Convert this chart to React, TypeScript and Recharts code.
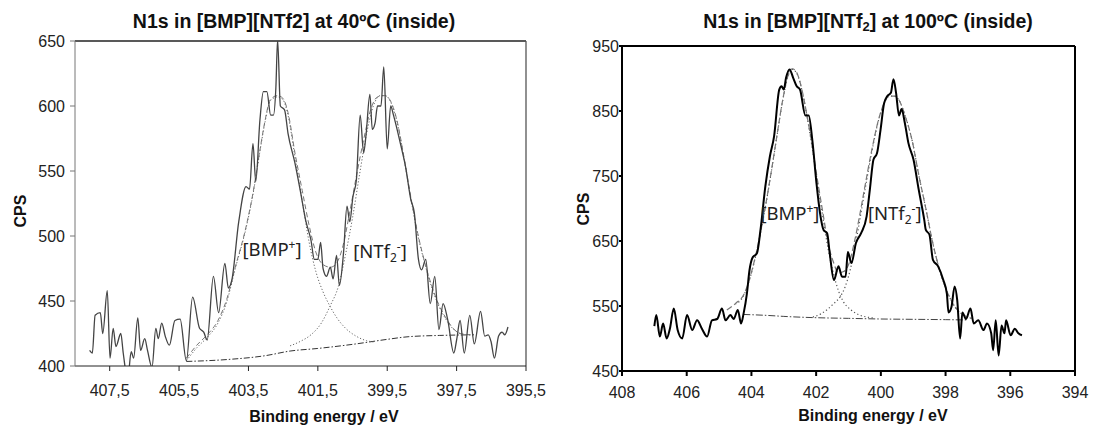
import React from 'react';
import { LineChart, Line, XAxis, YAxis, ReferenceLine, ReferenceDot } from 'recharts';

// ---------- Left chart (40 ºC) ----------
const leftXTicks = [407.5, 405.5, 403.5, 401.5, 399.5, 397.5, 395.5];
const leftYTicks = [400, 450, 500, 550, 600, 650];

const leftRaw: [number, number][] = [
  [408.08, 412], [408.0, 410], [407.92, 439], [407.77, 441], [407.7, 425], [407.57, 458], [407.49, 406], [407.4, 429], [407.32, 415], [407.18, 425],
  [407.11, 410], [406.98, 390], [406.88, 411], [406.81, 406], [406.69, 437], [406.61, 412], [406.49, 421], [406.41, 412], [406.28, 399], [406.17, 429],
  [406.1, 421], [406.0, 433], [405.9, 423], [405.78, 416], [405.62, 435], [405.47, 436], [405.29, 404], [405.11, 453], [404.91, 429], [404.79, 426],
  [404.69, 420], [404.51, 469], [404.36, 441], [404.18, 479], [404.08, 460], [403.98, 466], [403.78, 511], [403.57, 538], [403.47, 536], [403.37, 571],
  [403.29, 542], [403.17, 589], [403.07, 611], [402.97, 611], [402.86, 593], [402.78, 593], [402.71, 614], [402.66, 651], [402.58, 600], [402.46, 597],
  [402.36, 579], [402.16, 556], [402.0, 534], [401.85, 512], [401.7, 497], [401.6, 482], [401.5, 482], [401.42, 495], [401.35, 475], [401.25, 469],
  [401.14, 476], [401.06, 467], [400.96, 485], [400.88, 462], [400.76, 487], [400.66, 523], [400.58, 511], [400.49, 530], [400.39, 543], [400.28, 593],
  [400.18, 564], [400.11, 578], [400.0, 609], [399.93, 582], [399.85, 587], [399.78, 600], [399.68, 600], [399.6, 630], [399.5, 567], [399.4, 600],
  [399.32, 593], [399.12, 571], [398.97, 553], [398.82, 528], [398.72, 518], [398.6, 482], [398.51, 474], [398.39, 482], [398.26, 448], [398.13, 469],
  [398.01, 428], [397.89, 448], [397.76, 436], [397.58, 410], [397.5, 420], [397.4, 435], [397.28, 410], [397.12, 439], [396.99, 417], [396.81, 442],
  [396.69, 423], [396.59, 424], [396.51, 419], [396.41, 406], [396.29, 423], [396.19, 426], [396.11, 424], [396.02, 430],
];

const leftEnvelope: [number, number][] = [
  [405.29, 406], [404.99, 416], [404.69, 424], [404.38, 435], [404.13, 451], [403.88, 476], [403.57, 507], [403.37, 533], [403.17, 566], [403.02, 589],
  [402.87, 605], [402.66, 608], [402.51, 606], [402.36, 595], [402.16, 564], [401.95, 535], [401.75, 508], [401.55, 487], [401.35, 478], [401.14, 476],
  [400.99, 478], [400.79, 491], [400.59, 517], [400.39, 546], [400.18, 574], [399.98, 597], [399.78, 607], [399.58, 608], [399.43, 605], [399.22, 589],
  [399.02, 561], [398.82, 530], [398.62, 502], [398.41, 479], [398.21, 461], [398.01, 447], [397.81, 437], [397.6, 429], [397.4, 425], [397.1, 424],
];

const leftBmp: [number, number][] = [
  [405.29, 404], [404.99, 414], [404.69, 422], [404.38, 433], [404.13, 449], [403.88, 475], [403.57, 506], [403.37, 532], [403.17, 565], [403.02, 588],
  [402.87, 604], [402.66, 607], [402.51, 605], [402.36, 593], [402.16, 561], [401.95, 527], [401.75, 495], [401.55, 472], [401.35, 457], [401.15, 446],
  [400.95, 437], [400.7, 429], [400.4, 423], [400.1, 419.5], [399.9, 418.5],
];

const leftNtf: [number, number][] = [
  [402.3, 415.5], [402.0, 419], [401.7, 424], [401.4, 433], [401.15, 446], [400.9, 462], [400.7, 486], [400.5, 514], [400.3, 547], [400.1, 578],
  [399.9, 600], [399.7, 608], [399.55, 608], [399.4, 603], [399.22, 588], [399.02, 560], [398.82, 529], [398.62, 501], [398.41, 478], [398.21, 460],
  [398.01, 446], [397.81, 436], [397.6, 428.5], [397.4, 425],
];

const leftBackground: [number, number][] = [
  [405.29, 403.5], [404.1, 405], [403.0, 408], [402.3, 411.5], [401.5, 413.5], [400.4, 417], [399.5, 420.5], [398.9, 422.5], [398.0, 423.5], [397.0, 424],
];

// ---------- Right chart (100 ºC) ----------
const rightXTicks = [408, 406, 404, 402, 400, 398, 396, 394];
const rightYTicks = [450, 550, 650, 750, 850, 950];

const rightRaw: [number, number][] = [
  [407.0, 519], [406.94, 536], [406.83, 503], [406.73, 523], [406.62, 500], [406.52, 515], [406.4, 546], [406.28, 513], [406.14, 500], [405.99, 536],
  [405.83, 513], [405.68, 528], [405.53, 515], [405.37, 503], [405.22, 528], [405.06, 530], [404.91, 546], [404.8, 528], [404.65, 536], [404.55, 530],
  [404.42, 544], [404.32, 523], [404.24, 539], [404.14, 569], [404.06, 605], [403.96, 625], [403.83, 631], [403.72, 667], [403.57, 734], [403.43, 780],
  [403.3, 811], [403.14, 883], [403.07, 888], [403.0, 883], [402.93, 901], [402.82, 914], [402.71, 901], [402.6, 888], [402.5, 883], [402.33, 843],
  [402.23, 843], [402.12, 806], [401.99, 739], [401.88, 693], [401.77, 667], [401.66, 662], [401.58, 631], [401.45, 590], [401.31, 611], [401.2, 595],
  [401.09, 595], [401.02, 633], [400.91, 616], [400.77, 647], [400.61, 662], [400.44, 688], [400.34, 729], [400.23, 775], [400.12, 785], [400.01, 821],
  [399.9, 862], [399.8, 873], [399.69, 878], [399.61, 899], [399.53, 878], [399.44, 843], [399.36, 853], [399.26, 832], [399.15, 801], [398.99, 775],
  [398.83, 729], [398.66, 683], [398.61, 667], [398.5, 660], [398.39, 621], [398.23, 611], [398.07, 590], [397.96, 569], [397.91, 540], [397.82, 548],
  [397.72, 580], [397.64, 559], [397.55, 500], [397.48, 540], [397.37, 530], [397.23, 546], [397.13, 523], [396.99, 528], [396.83, 513], [396.72, 523],
  [396.59, 508], [396.53, 482], [396.45, 528], [396.36, 474], [396.27, 520], [396.18, 508], [396.13, 528], [395.99, 505], [395.86, 515], [395.75, 508],
  [395.64, 505],
];

const rightEnvelope: [number, number][] = [
  [404.76, 544], [404.49, 554], [404.22, 569], [404.01, 600], [403.79, 646], [403.57, 703], [403.36, 765], [403.2, 816], [403.03, 868], [402.87, 904],
  [402.74, 915], [402.6, 909], [402.44, 883], [402.28, 842], [402.12, 796], [401.96, 744], [401.79, 693], [401.63, 646], [401.47, 618], [401.31, 601],
  [401.15, 603], [400.98, 616], [400.82, 648], [400.66, 688], [400.5, 732], [400.28, 790], [400.07, 837], [399.9, 862], [399.74, 873], [399.58, 873],
  [399.42, 865], [399.26, 844], [399.04, 806], [398.83, 752], [398.61, 700], [398.4, 648], [398.2, 608], [398.0, 578], [397.8, 556], [397.6, 542],
  [397.4, 535], [397.2, 531],
];

const rightBmp: [number, number][] = [
  [404.5, 553], [404.22, 568], [404.01, 599], [403.79, 645], [403.57, 702], [403.36, 764], [403.2, 815], [403.03, 867], [402.87, 903], [402.74, 914],
  [402.6, 908], [402.44, 882], [402.28, 841], [402.12, 793], [401.96, 740], [401.79, 686], [401.63, 638], [401.47, 601], [401.3, 572], [401.15, 556],
  [400.95, 545], [400.7, 537], [400.43, 533], [400.2, 531.5],
];

const rightNtf: [number, number][] = [
  [402.1, 533], [401.85, 538], [401.65, 545], [401.45, 554], [401.26, 564], [401.1, 580], [400.95, 605], [400.82, 635], [400.66, 680], [400.5, 726],
  [400.28, 787], [400.07, 836], [399.9, 861], [399.74, 873], [399.58, 873], [399.42, 865], [399.26, 844], [399.04, 806], [398.83, 752], [398.61, 700],
  [398.4, 648], [398.2, 608], [398.0, 578], [397.8, 556], [397.6, 542], [397.4, 535], [397.2, 531],
];

const rightBackground: [number, number][] = [
  [404.25, 537], [403.5, 535.5], [403.0, 534], [402.0, 532], [401.0, 531], [400.0, 530], [399.0, 529.5], [398.0, 529], [397.35, 528.5],
];

// annotation anchor points (energy, cps)
const leftBmpLabelAt: [number, number] = [402.82, 489];
const leftNtfLabelAt: [number, number] = [399.71, 488];
const rightBmpLabelAt: [number, number] = [402.81, 691];
const rightNtfLabelAt: [number, number] = [399.57, 691];

const pts = (arr: [number, number][]) => arr.map(([e, v]) => ({ e, v }));
const commaFmt = (v: number) => v.toFixed(1).replace('.', ',');

const SANS = '"Liberation Sans", Arial, sans-serif';
const ANNO = '"Noto Sans", "Open Sans", sans-serif';

const bmpLabel = (props: any) => {
  const vb = props.viewBox || {};
  const x = (vb.x ?? 0) + (vb.width ?? 0) / 2;
  const y = (vb.y ?? 0) + (vb.height ?? 0) / 2;
  return (
    <text x={x} y={y + 6} textAnchor="middle" fontFamily={ANNO} fontSize={18.5} fill="#222">
      [BMP<tspan dy={-7} fontSize={12}>+</tspan><tspan dy={7}>]</tspan>
    </text>
  );
};

const ntfLabel = (props: any) => {
  const vb = props.viewBox || {};
  const x = (vb.x ?? 0) + (vb.width ?? 0) / 2;
  const y = (vb.y ?? 0) + (vb.height ?? 0) / 2;
  return (
    <text x={x} y={y + 6} textAnchor="middle" fontFamily={ANNO} fontSize={18.5} fill="#222">
      [NTf<tspan dy={4} fontSize={12}>2</tspan><tspan dy={-11} fontSize={12}>-</tspan><tspan dy={7}>]</tspan>
    </text>
  );
};

const lineCommon = { dot: false, isAnimationActive: false, activeDot: false, type: 'monotone' as const, dataKey: 'v' };

function LeftChart() {
  return (
    <LineChart width={548} height={435} margin={{ top: 41, right: 22, bottom: 0, left: 0 }}>
      <XAxis
        type="number" dataKey="e" domain={[395.5, 408.5]} reversed allowDataOverflow
        ticks={leftXTicks} interval={0} tickFormatter={commaFmt}
        height={69} tickSize={5} tickMargin={14} stroke="#222"
        tick={{ fontSize: 16, fill: '#222', fontFamily: SANS }}
      />
      <YAxis
        type="number" dataKey="v" domain={[400, 650]} allowDataOverflow
        ticks={leftYTicks} interval={0} width={75} tickSize={5} tickMargin={5} stroke="#777"
        tick={{ fontSize: 16, fill: '#222', fontFamily: SANS }}
      />
      <ReferenceLine y={650} stroke="#222" strokeWidth={1.3} />
      <ReferenceLine x={395.5} stroke="#555" strokeWidth={1.3} />
      <Line {...lineCommon} data={pts(leftBackground)} stroke="#333" strokeWidth={1} strokeDasharray="6 2 1.5 2" />
      <Line {...lineCommon} data={pts(leftBmp)} stroke="#666" strokeWidth={1} strokeDasharray="1.2 2" />
      <Line {...lineCommon} data={pts(leftNtf)} stroke="#666" strokeWidth={1} strokeDasharray="1.2 2" />
      <Line {...lineCommon} data={pts(leftEnvelope)} stroke="#777" strokeWidth={1} strokeDasharray="5 3" />
      <Line {...lineCommon} data={pts(leftRaw)} stroke="#444" strokeWidth={1.3} />
      <ReferenceDot x={leftBmpLabelAt[0]} y={leftBmpLabelAt[1]} r={0} fill="none" stroke="none" label={bmpLabel} />
      <ReferenceDot x={leftNtfLabelAt[0]} y={leftNtfLabelAt[1]} r={0} fill="none" stroke="none" label={ntfLabel} />
    </LineChart>
  );
}

function RightChart() {
  return (
    <LineChart width={549} height={435} margin={{ top: 46, right: 22, bottom: 0, left: 0 }}>
      <XAxis
        type="number" dataKey="e" domain={[394, 408]} reversed allowDataOverflow
        ticks={rightXTicks} interval={0}
        height={64} tickSize={5} tickMargin={11} stroke="#000" strokeWidth={2}
        tick={{ fontSize: 16, fill: '#222', fontFamily: SANS }}
      />
      <YAxis
        type="number" dataKey="v" domain={[450, 950]} allowDataOverflow
        ticks={rightYTicks} interval={0} width={74} tickSize={3} tickMargin={0} stroke="#000" strokeWidth={2}
        tick={{ fontSize: 16, fill: '#222', fontFamily: SANS }}
      />
      <ReferenceLine y={950} stroke="#000" strokeWidth={2} />
      <ReferenceLine x={394} stroke="#000" strokeWidth={2} />
      <Line {...lineCommon} data={pts(rightBackground)} stroke="#444" strokeWidth={1} strokeDasharray="7 2 1.5 2" />
      <Line {...lineCommon} data={pts(rightBmp)} stroke="#555" strokeWidth={1.2} strokeDasharray="1.2 2.5" />
      <Line {...lineCommon} data={pts(rightNtf)} stroke="#555" strokeWidth={1.2} strokeDasharray="1.2 2.5" />
      <Line {...lineCommon} data={pts(rightEnvelope)} stroke="#777" strokeWidth={1.2} strokeDasharray="6 3" />
      <Line {...lineCommon} data={pts(rightRaw)} stroke="#000" strokeWidth={2} />
      <ReferenceDot x={rightBmpLabelAt[0]} y={rightBmpLabelAt[1]} r={0} fill="none" stroke="none" label={bmpLabel} />
      <ReferenceDot x={rightNtfLabelAt[0]} y={rightNtfLabelAt[1]} r={0} fill="none" stroke="none" label={ntfLabel} />
    </LineChart>
  );
}

export default function App() {
  return (
    <div style={{ position: 'absolute', left: 0, top: 0, width: 1097, height: 435, background: '#fff', overflow: 'hidden' }}>
      <div style={{ position: 'absolute', left: 0, top: 0 }}>
        <LeftChart />
      </div>
      <div style={{ position: 'absolute', left: 548, top: 0 }}>
        <RightChart />
      </div>
      <svg width={1097} height={435} style={{ position: 'absolute', left: 0, top: 0, pointerEvents: 'none' }}>
        <g fontFamily={SANS} fontWeight="bold" fill="#111">
          <text x={294} y={21} textAnchor="middle" dominantBaseline="central" fontSize={19.5}>
            N1s in [BMP][NTf2] at 40ºC (inside)
          </text>
          <text x={868} y={21} textAnchor="middle" dominantBaseline="central" fontSize={19.5}>
            N1s in [BMP][NTf<tspan dy={5} fontSize={13}>2</tspan><tspan dy={-5}>] at 100ºC (inside)</tspan>
          </text>
          <text x={20} y={211} textAnchor="middle" dominantBaseline="central" fontSize={16} transform="rotate(-90 20 211)">CPS</text>
          <text x={583} y={209} textAnchor="middle" dominantBaseline="central" fontSize={16} transform="rotate(-90 583 209)">CPS</text>
          <text x={324} y={416} textAnchor="middle" dominantBaseline="central" fontSize={16}>Binding energy / eV</text>
          <text x={873} y={415} textAnchor="middle" dominantBaseline="central" fontSize={16}>Binding energy / eV</text>
        </g>
      </svg>
    </div>
  );
}
